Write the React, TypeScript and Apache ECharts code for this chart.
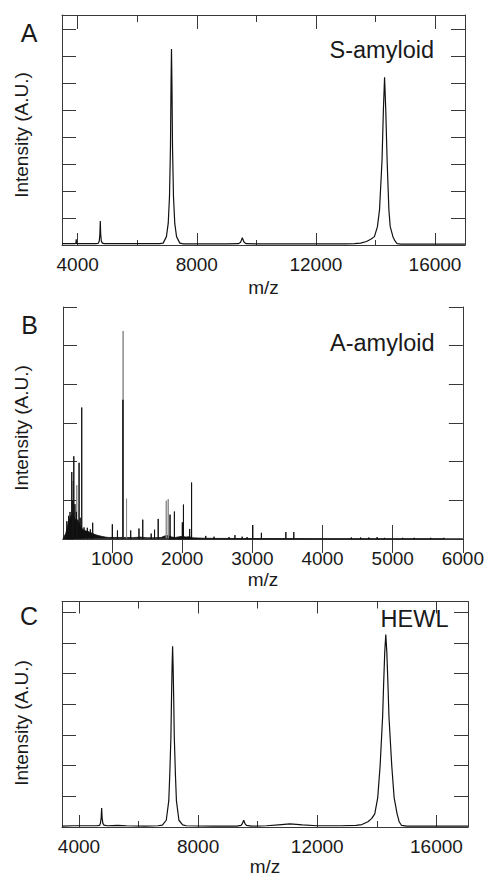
import React, { useEffect, useRef } from "react";
import * as echarts from "echarts";

// ---------- Data (m/z, intensity in A.U.) ----------
const A_SPECTRUM: [number, number][] = [
  [3473, 0.05], [3700, 0.05], [3900, 0.05], [3940, 0.06], [3950, 0.21], [3960, 0.06], [4000, 0.05],
  [4300, 0.05], [4600, 0.05], [4690, 0.06], [4725, 0.15], [4745, 0.4], [4759, 0.89], [4773, 0.4],
  [4793, 0.15], [4830, 0.07], [4900, 0.05], [5500, 0.05], [6000, 0.05], [6500, 0.05], [6750, 0.05],
  [6870, 0.07], [6980, 0.31], [7040, 0.8], [7083, 1.8], [7116, 3.65], [7135, 6.0], [7150, 7.27],
  [7165, 6.0], [7184, 3.65], [7217, 1.8], [7260, 0.8], [7320, 0.31], [7430, 0.07], [7550, 0.04],
  [8000, 0.04], [8500, 0.04], [9000, 0.04], [9400, 0.05], [9470, 0.1], [9505, 0.2], [9528, 0.27],
  [9550, 0.2], [9590, 0.1], [9660, 0.05], [10000, 0.04], [11000, 0.04], [12000, 0.04], [13000, 0.04],
  [13300, 0.05], [13500, 0.07], [13700, 0.13], [13856, 0.22], [13966, 0.31], [14066, 0.68],
  [14136, 1.3], [14221, 3.15], [14266, 5.0], [14306, 6.22], [14346, 5.0], [14391, 3.15],
  [14451, 1.3], [14496, 0.68], [14586, 0.31], [14656, 0.15], [14726, 0.05], [14856, 0.03],
  [15500, 0.03], [16500, 0.03], [17007, 0.03],
];

const B_NOISE: [number, number][] = [
  [300, 0.0], [320, 0.08], [340, 0.15], [360, 0.3], [380, 0.45], [400, 0.55], [420, 0.62],
  [440, 0.6], [460, 0.55], [480, 0.5], [500, 0.42], [520, 0.45], [540, 0.35], [560, 0.3],
  [580, 0.25], [600, 0.22], [650, 0.2], [700, 0.16], [750, 0.12], [800, 0.09], [850, 0.07],
  [900, 0.05], [950, 0.04], [1000, 0.04], [1100, 0.04], [1200, 0.04], [1300, 0.035], [1400, 0.05],
  [1450, 0.04], [1500, 0.03], [1600, 0.03], [1700, 0.04], [1750, 0.08], [1800, 0.09], [1850, 0.05],
  [1900, 0.04], [2000, 0.07], [2050, 0.05], [2100, 0.06], [2150, 0.03], [2300, 0.02], [2500, 0.015],
  [3000, 0.012], [3500, 0.01], [4000, 0.008], [5000, 0.006], [6000, 0.006],
];

const B_PEAKS_DARK: [number, number][] = [
  [355, 0.46], [380, 0.6], [400, 0.7], [425, 1.73], [440, 1.0], [454, 2.14], [470, 0.9], [490, 0.7],
  [510, 0.5], [529, 1.97], [545, 0.55], [567, 3.4], [600, 0.3], [647, 0.29], [690, 0.25], [723, 0.42],
  [1003, 0.38], [1076, 0.22], [1154, 3.6], [1265, 0.22], [1383, 0.27], [1437, 0.5], [1557, 0.14],
  [1605, 0.24], [1657, 0.52], [1826, 0.63], [1888, 0.71], [2001, 0.43], [2017, 0.89], [2106, 0.26],
  [2133, 1.46], [2335, 0.08], [2453, 0.06], [2666, 0.05], [2751, 0.1], [2854, 0.06], [2924, 0.05],
  [3005, 0.36], [3128, 0.16], [3477, 0.18], [3590, 0.18], [4410, 0.04], [4543, 0.04], [4660, 0.04],
  [4778, 0.05], [4882, 0.03], [5141, 0.03], [5306, 0.03], [5542, 0.03], [5730, 0.03],
];

const B_PEAKS_LIGHT: [number, number][] = [
  [445, 1.5], [496, 1.39], [1157, 5.38], [1206, 1.04], [1772, 0.99], [1800, 1.03],
];

const C_SPECTRUM: [number, number][] = [
  [3430, 0.03], [3800, 0.04], [4200, 0.04], [4600, 0.04], [4690, 0.05], [4720, 0.12], [4745, 0.3],
  [4761, 0.62], [4777, 0.3], [4802, 0.12], [4840, 0.06], [4950, 0.04], [5300, 0.05], [5600, 0.04],
  [6200, 0.03], [6650, 0.04], [6800, 0.06], [6930, 0.22], [7014, 0.85], [7048, 1.7], [7087, 2.96],
  [7103, 4.0], [7125, 5.2], [7143, 5.89], [7161, 5.2], [7183, 4.0], [7199, 2.96], [7238, 1.7],
  [7272, 0.85], [7355, 0.22], [7480, 0.07], [7600, 0.04], [8500, 0.03], [9300, 0.03], [9440, 0.05],
  [9490, 0.12], [9530, 0.22], [9570, 0.12], [9620, 0.05], [9800, 0.03], [10300, 0.04], [10700, 0.07],
  [11080, 0.1], [11500, 0.07], [12000, 0.04], [12800, 0.04], [13300, 0.05], [13500, 0.08],
  [13700, 0.17], [13830, 0.28], [13930, 0.43], [14030, 0.96], [14110, 2.0], [14194, 3.6],
  [14227, 4.64], [14265, 5.7], [14300, 6.27], [14335, 5.7], [14373, 4.64], [14406, 3.6],
  [14500, 2.0], [14580, 0.96], [14680, 0.43], [14750, 0.17], [14830, 0.05], [15000, 0.03],
  [16000, 0.03], [17060, 0.03],
];

// ---------- Tick labels ----------
const AC_MAJOR_TICKS = [4000, 8000, 12000, 16000];
const AC_MINOR_TICKS = [6000, 10000, 14000];
const B_TICKS = [1000, 2000, 3000, 4000, 5000, 6000];

const PANEL_LETTERS = ["A", "B", "C"];
const PANEL_TITLES = ["S-amyloid", "A-amyloid", "HEWL"];
const X_NAME = "m/z";
const Y_NAME = "Intensity (A.U.)";

const FONT = "'Liberation Sans', Arial, Helvetica, sans-serif";
const AXIS_COLOR = "#383838";
const TEXT_COLOR = "#1a1a1a";

function sticks(list: [number, number][]) {
  const out: [number, number][] = [];
  list.forEach(([x, y]) => {
    out.push([x, 0], [x, y], [x, 0]);
  });
  return out;
}

function xAxis(gi: number, min: number, max: number, opts: any) {
  return {
    type: "value",
    gridIndex: gi,
    min,
    max,
    position: opts.position,
    axisLine: { show: !!opts.line, lineStyle: { color: AXIS_COLOR, width: 1 } },
    axisTick: {
      show: true,
      inside: true,
      length: opts.tickLen,
      customValues: opts.ticks,
      lineStyle: { color: AXIS_COLOR, width: 1 },
    },
    axisLabel: opts.labels
      ? {
          show: true,
          customValues: opts.ticks,
          formatter: (v: number) => String(v),
          fontSize: 19,
          fontFamily: FONT,
          color: TEXT_COLOR,
          margin: 10,
        }
      : { show: false },
    splitLine: { show: false },
    name: opts.name || "",
    nameLocation: "middle",
    nameGap: opts.nameGap || 0,
    nameTextStyle: { fontSize: 19, fontFamily: FONT, color: TEXT_COLOR },
  };
}

function yAxis(gi: number, max: number, position: string) {
  return {
    type: "value",
    gridIndex: gi,
    min: 0,
    max,
    interval: 1,
    position,
    axisLine: { show: true, lineStyle: { color: AXIS_COLOR, width: 1 } },
    axisTick: { show: true, inside: true, length: 14, lineStyle: { color: AXIS_COLOR, width: 1 } },
    axisLabel: { show: false },
    splitLine: { show: false },
  };
}

export default function App() {
  const ref = useRef<HTMLDivElement>(null);

  useEffect(() => {
    if (!ref.current) return;
    const chart = echarts.init(ref.current, undefined, { renderer: "svg" });

    const A = { min: 3473, max: 17007 };
    const B = { min: 300, max: 6000 };
    const C = { min: 3430, max: 17060 };

    const option: any = {
      animation: false,
      backgroundColor: "#ffffff",
      grid: [
        { left: 62, top: 15, width: 403, height: 230 },
        { left: 63, top: 307, width: 403, height: 232 },
        { left: 62, top: 601.5, width: 406, height: 233 },
      ],
      xAxis: [
        // A
        xAxis(0, A.min, A.max, { position: "bottom", line: true, tickLen: 12, ticks: AC_MAJOR_TICKS, labels: true, name: X_NAME, nameGap: 33 }),
        xAxis(0, A.min, A.max, { position: "bottom", tickLen: 5, ticks: AC_MINOR_TICKS }),
        xAxis(0, A.min, A.max, { position: "top", line: true, tickLen: 14, ticks: AC_MAJOR_TICKS }),
        xAxis(0, A.min, A.max, { position: "top", tickLen: 7, ticks: AC_MINOR_TICKS }),
        // B
        xAxis(1, B.min, B.max, { position: "bottom", line: true, tickLen: 14, ticks: B_TICKS, labels: true, name: X_NAME, nameGap: 31 }),
        xAxis(1, B.min, B.max, { position: "top", line: true, tickLen: 14, ticks: B_TICKS }),
        // C
        xAxis(2, C.min, C.max, { position: "bottom", line: true, tickLen: 12, ticks: AC_MAJOR_TICKS, labels: true, name: X_NAME, nameGap: 30 }),
        xAxis(2, C.min, C.max, { position: "bottom", tickLen: 6, ticks: AC_MINOR_TICKS }),
        xAxis(2, C.min, C.max, { position: "top", line: true, tickLen: 12, ticks: AC_MAJOR_TICKS }),
        xAxis(2, C.min, C.max, { position: "top", tickLen: 7, ticks: AC_MINOR_TICKS }),
      ],
      yAxis: [
        yAxis(0, 8.53, "left"),
        yAxis(0, 8.53, "right"),
        yAxis(1, 6, "left"),
        yAxis(1, 6, "right"),
        yAxis(2, 7.35, "left"),
        yAxis(2, 7.35, "right"),
      ],
      series: [
        {
          name: "S-amyloid",
          type: "line",
          xAxisIndex: 0,
          yAxisIndex: 0,
          data: A_SPECTRUM,
          showSymbol: false,
          lineStyle: { color: "#111", width: 1.2 },
        },
        {
          name: "A-amyloid baseline",
          type: "line",
          xAxisIndex: 4,
          yAxisIndex: 2,
          data: B_NOISE,
          showSymbol: false,
          lineStyle: { color: "#111", width: 0.8 },
          areaStyle: { color: "#111", opacity: 1 },
        },
        {
          name: "A-amyloid light",
          type: "line",
          xAxisIndex: 4,
          yAxisIndex: 2,
          data: sticks(B_PEAKS_LIGHT),
          showSymbol: false,
          lineStyle: { color: "#8a8a8a", width: 1 },
        },
        {
          name: "A-amyloid",
          type: "line",
          xAxisIndex: 4,
          yAxisIndex: 2,
          data: sticks(B_PEAKS_DARK),
          showSymbol: false,
          lineStyle: { color: "#111", width: 1 },
        },
        {
          name: "HEWL",
          type: "line",
          xAxisIndex: 6,
          yAxisIndex: 4,
          data: C_SPECTRUM,
          showSymbol: false,
          lineStyle: { color: "#111", width: 1.2 },
        },
      ],
      graphic: [
        // Panel letters
        { type: "text", x: 29, y: 33, style: { text: PANEL_LETTERS[0], font: `25px ${FONT}`, fill: TEXT_COLOR, align: "center", verticalAlign: "middle" } },
        { type: "text", x: 29.5, y: 324.5, style: { text: PANEL_LETTERS[1], font: `25px ${FONT}`, fill: TEXT_COLOR, align: "center", verticalAlign: "middle" } },
        { type: "text", x: 29, y: 616, style: { text: PANEL_LETTERS[2], font: `25px ${FONT}`, fill: TEXT_COLOR, align: "center", verticalAlign: "middle" } },
        // Panel titles
        { type: "text", x: 434, y: 50, style: { text: PANEL_TITLES[0], font: `23.5px ${FONT}`, fill: TEXT_COLOR, align: "right", verticalAlign: "middle" } },
        { type: "text", x: 434.5, y: 342.5, style: { text: PANEL_TITLES[1], font: `23.5px ${FONT}`, fill: TEXT_COLOR, align: "right", verticalAlign: "middle" } },
        { type: "text", x: 448.5, y: 618.5, style: { text: PANEL_TITLES[2], font: `23.5px ${FONT}`, fill: TEXT_COLOR, align: "right", verticalAlign: "middle" } },
        // Y-axis names
        { type: "text", x: 21.5, y: 135, rotation: Math.PI / 2, style: { text: Y_NAME, font: `19px ${FONT}`, fill: TEXT_COLOR, align: "center", verticalAlign: "middle" } },
        { type: "text", x: 21.5, y: 428, rotation: Math.PI / 2, style: { text: Y_NAME, font: `19px ${FONT}`, fill: TEXT_COLOR, align: "center", verticalAlign: "middle" } },
        { type: "text", x: 21.5, y: 723, rotation: Math.PI / 2, style: { text: Y_NAME, font: `19px ${FONT}`, fill: TEXT_COLOR, align: "center", verticalAlign: "middle" } },
      ],
    };

    chart.setOption(option);
    return () => chart.dispose();
  }, []);

  return (
    <div
      ref={ref}
      style={{ position: "fixed", left: 0, top: 0, width: 487, height: 877, background: "#fff" }}
    />
  );
}
